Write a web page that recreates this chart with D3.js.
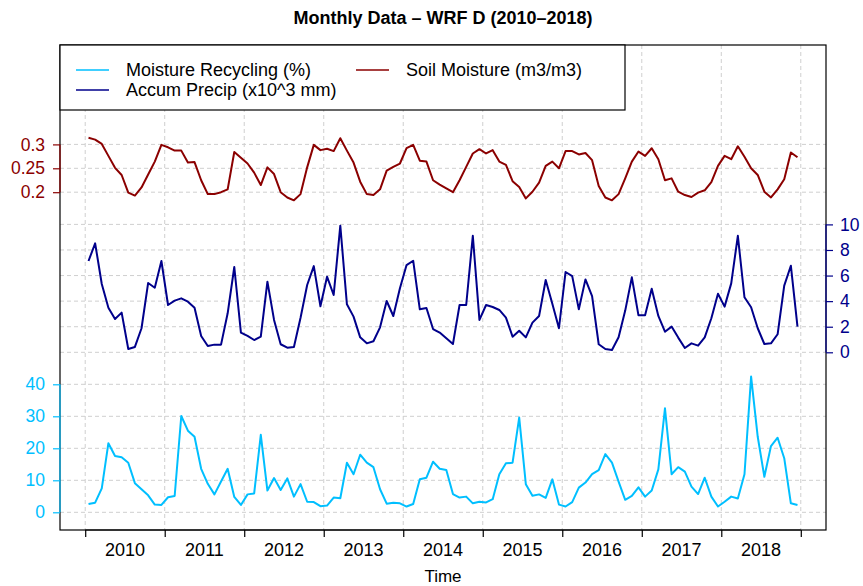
<!DOCTYPE html>
<html><head><meta charset="utf-8">
<script src="https://cdn.jsdelivr.net/npm/d3@7"></script>
<style>body{margin:0;background:#fff}svg{display:block;font-family:"Liberation Sans",Arial,Helvetica,sans-serif}</style>
</head><body><svg id="c" width="863" height="586"></svg>
<script>
const startYear = 2010;
const years = [2010,2011,2012,2013,2014,2015,2016,2017,2018];
const soilMoisture = [0.314,0.310,0.301,0.276,0.251,0.236,0.199,0.193,0.210,0.237,0.264,0.299,
0.294,0.287,0.287,0.262,0.263,0.225,0.196,0.196,0.200,0.206,0.284,0.272,
0.260,0.241,0.215,0.252,0.238,0.200,0.189,0.183,0.196,0.252,0.299,0.288,
0.291,0.286,0.313,0.287,0.262,0.222,0.196,0.194,0.206,0.245,0.253,0.260,
0.292,0.299,0.266,0.264,0.225,0.216,0.208,0.200,0.225,0.253,0.281,0.290,
0.281,0.288,0.264,0.257,0.223,0.211,0.187,0.201,0.220,0.255,0.264,0.250,
0.286,0.286,0.279,0.282,0.267,0.213,0.189,0.183,0.196,0.229,0.264,0.285,
0.276,0.292,0.269,0.225,0.229,0.201,0.194,0.190,0.199,0.204,0.221,0.255,
0.276,0.269,0.296,0.274,0.250,0.236,0.201,0.189,0.206,0.227,0.283,0.273];
const accumPrecip = [7.14,8.52,5.34,3.49,2.60,3.10,0.26,0.42,1.88,5.42,5.05,7.14,
3.70,4.04,4.22,3.96,3.49,1.28,0.49,0.60,0.60,3.05,6.67,1.54,
1.28,0.96,1.22,5.52,2.53,0.63,0.36,0.42,2.7,5.26,6.74,3.6,
5.91,4.48,9.90,3.75,2.79,1.17,0.70,0.86,1.95,4.01,2.84,5.00,
6.82,7.16,3.36,3.46,1.82,1.54,1.09,0.65,3.70,3.70,9.11,2.53,
3.70,3.54,3.31,2.71,1.22,1.69,1.17,2.32,2.84,5.65,3.80,1.88,
6.28,5.96,3.36,5.70,4.40,0.63,0.26,0.18,1.17,3.26,5.86,2.89,
2.89,4.97,2.84,1.61,2.01,1.15,0.34,0.70,0.52,1.17,2.66,4.58,
3.57,5.39,9.11,4.30,3.52,1.88,0.65,0.70,1.41,5.21,6.77,2.01];
const moistureRecycling = [2.6,3.0,7.5,21.6,17.6,17.2,15.5,9.1,7.2,5.3,2.4,2.3,
4.7,5.1,30.1,25.5,23.6,13.6,8.9,5.6,9.6,13.6,4.8,2.3,
5.6,5.9,24.2,6.8,10.7,7.0,10.6,4.9,8.8,3.3,3.2,1.9,
2.1,4.6,4.4,15.5,11.9,18.0,15.5,14.1,7.2,2.7,3.0,2.8,
1.8,2.6,10.3,10.8,15.8,13.6,13.2,5.7,4.6,4.9,2.8,3.3,
3.1,4.1,11.9,15.3,15.5,29.6,8.8,5.2,5.6,4.5,10.3,2.4,
1.8,3.2,7.7,9.3,11.9,13.2,18.2,15.5,9.6,3.9,5.1,7.8,
4.9,6.8,13.4,32.5,11.9,14.1,12.7,8.0,5.7,10.8,4.9,1.8,
3.3,4.9,4.3,11.9,42.4,23.6,11.1,20.7,23.3,16.9,2.8,2.3];
const soilTicks = [0.2,0.25,0.3];
const soilTickLabels = ["0.2","0.25","0.3"];
const precipTicks = [0,2,4,6,8,10];
const recycTicks = [0,10,20,30,40];
const legendLabels = ["Moisture Recycling (%)","Soil Moisture (m3/m3)","Accum Precip (x10^3 mm)"];

const colRecyc = "#00BFFF", colPrecip = "#00008B", colSoil = "#8B0000";
const FS = "18px", AFS = "17.5px";
const svg = d3.select("#c");
const L = 60, R = 826, T = 45, B = 530;
const t = i => startYear + (i + 0.5) / 12;
const x = d3.scaleLinear().domain([2009.683, 2019.317]).range([L, R]);
const ySoil = d3.scaleLinear().domain([0.2, 0.3]).range([192.2, 144.4]);
const yPrecip = d3.scaleLinear().domain([0, 10]).range([352.3, 224.4]);
const yRecyc = d3.scaleLinear().domain([0, 40]).range([512.3, 384.3]);

const grid = svg.append("g").attr("stroke", "#cfcfcf").attr("stroke-dasharray", "4,3").attr("stroke-width", 1);
const gridX = years.concat([2019]);
gridX.forEach(v => grid.append("line").attr("x1", x(v)).attr("x2", x(v)).attr("y1", T).attr("y2", B));
const hy = [];
soilTicks.forEach(v => hy.push(ySoil(v)));
precipTicks.forEach(v => hy.push(yPrecip(v)));
recycTicks.forEach(v => hy.push(yRecyc(v)));
hy.forEach(y => grid.append("line").attr("x1", L).attr("x2", R).attr("y1", y).attr("y2", y));

function drawLine(vals, ys, col) {
  svg.append("path").datum(vals).attr("fill", "none").attr("stroke", col).attr("stroke-width", 2)
    .attr("stroke-linejoin", "round")
    .attr("d", d3.line().x((d, i) => x(t(i))).y(d => ys(d)));
}
drawLine(soilMoisture, ySoil, colSoil);
drawLine(accumPrecip, yPrecip, colPrecip);
drawLine(moistureRecycling, yRecyc, colRecyc);

// box
svg.append("rect").attr("x", L).attr("y", T).attr("width", R - L).attr("height", B - T)
  .attr("fill", "none").attr("stroke", "#000").attr("stroke-width", 1.2);

function styleAxis(a, col) {
  a.selectAll("path,line").attr("stroke", col).attr("stroke-width", 1.2);
  a.selectAll("text").attr("fill", col).style("font-size", AFS);
  a.attr("font-family", null).attr("font-size", null);
}
const aSoil = svg.append("g").attr("transform", `translate(${L},0)`)
  .call(d3.axisLeft(ySoil).tickValues(soilTicks).tickFormat((d, i) => soilTickLabels[i]).tickSize(7).tickPadding(8));
styleAxis(aSoil, colSoil);
aSoil.select("path.domain").attr("d", `M0,${ySoil(0.3)}V${ySoil(0.2)}`);

const aRec = svg.append("g").attr("transform", `translate(${L},0)`)
  .call(d3.axisLeft(yRecyc).tickValues(recycTicks).tickSize(7).tickPadding(8));
styleAxis(aRec, colRecyc);
aRec.select("path.domain").attr("d", `M0,${yRecyc(40)}V${yRecyc(0)}`);

const aPre = svg.append("g").attr("transform", `translate(${R},0)`)
  .call(d3.axisRight(yPrecip).tickValues(precipTicks).tickSize(7).tickPadding(7));
styleAxis(aPre, colPrecip);
aPre.select("path.domain").attr("d", `M0,${yPrecip(10)}V${yPrecip(0)}`);

// bottom axis
const aX = svg.append("g").attr("transform", `translate(0,${B})`)
  .call(d3.axisBottom(x).tickValues(gridX).tickSize(7).tickFormat(""));
aX.select("path.domain").attr("d", `M${x(2010)},0H${x(2019)}`);
aX.selectAll("path,line").attr("stroke", "#000").attr("stroke-width", 1.2);
svg.append("g").selectAll("text").data(years).join("text")
  .attr("x", d => x(d + 0.5)).attr("y", 556).attr("text-anchor", "middle")
  .style("font-size", FS).text(d => d);
svg.append("text").attr("x", (L + R) / 2 + 0).attr("y", 582).attr("text-anchor", "middle")
  .style("font-size", "17px").text("Time");

// title
svg.append("text").attr("x", (L + R) / 2).attr("y", 24).attr("text-anchor", "middle")
  .style("font-size", FS).style("font-weight", "bold").text("Monthly Data – WRF D (2010–2018)");

// legend
const lg = svg.append("g");
lg.append("rect").attr("x", L).attr("y", T).attr("width", 565).attr("height", 65)
  .attr("fill", "#fff").attr("stroke", "#000").attr("stroke-width", 1.2);
const items = [
  {label: legendLabels[0], col: colRecyc, x: 76, y: 70},
  {label: legendLabels[1], col: colSoil, x: 356, y: 70},
  {label: legendLabels[2], col: colPrecip, x: 76, y: 90}
];
items.forEach(it => {
  lg.append("line").attr("x1", it.x).attr("x2", it.x + 33).attr("y1", it.y).attr("y2", it.y)
    .attr("stroke", it.col).attr("stroke-width", 1.5);
  lg.append("text").attr("x", it.x + 50).attr("y", it.y + 6).style("font-size", FS).text(it.label);
});
</script></body></html>
